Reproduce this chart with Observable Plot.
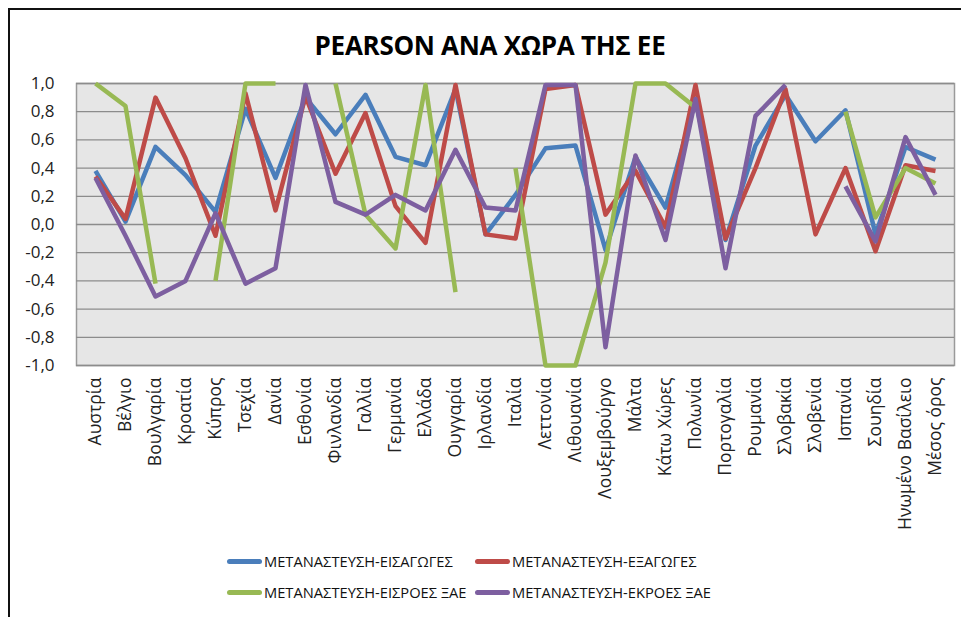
<!DOCTYPE html>
<html>
<head>
<meta charset="utf-8">
<script src="https://cdn.jsdelivr.net/npm/d3@7"></script>
<script src="https://cdn.jsdelivr.net/npm/@observablehq/plot@0.6"></script>
<style>
  html, body { margin: 0; padding: 0; background: #fff; }
  body { width: 961px; height: 617px; position: relative; overflow: hidden; font-family: "Open Sans", sans-serif; }
  #frame { position: absolute; left: 8px; top: 8px; width: 980px; height: 640px; border-top: 2px solid #111; border-left: 2px solid #111; }
  #title { position: absolute; left: 0; width: 980px; top: 27px; text-align: center; font-weight: bold; font-size: 26px; color: #000; letter-spacing: -0.3px; }
  #chart { position: absolute; left: 0; top: 0; }
  .leg { position: absolute; display: flex; align-items: center; font-size: 14.7px; color: #111; white-space: nowrap; }
  .leg .sw { width: 35px; height: 5px; border-radius: 2.5px; margin-right: 2px; }
</style>
</head>
<body>
<div id="frame"></div>
<div id="chart"></div>
<div id="title">PEARSON ΑΝΑ ΧΩΡΑ ΤΗΣ ΕΕ</div>
<div id="legend"></div>
<script>
const countries = ["Αυστρία","Βέλγιο","Βουλγαρία","Κροατία","Κύπρος","Τσεχία","Δανία","Εσθονία","Φινλανδία","Γαλλία","Γερμανία","Ελλάδα","Ουγγαρία","Ιρλανδία","Ιταλία","Λεττονία","Λιθουανία","Λουξεμβούργο","Μάλτα","Κάτω Χώρες","Πολωνία","Πορτογαλία","Ρουμανία","Σλοβακία","Σλοβενία","Ισπανία","Σουηδία","Ηνωμένο Βασίλειο","Μέσος όρος"];

const seriesNames = ["ΜΕΤΑΝΑΣΤΕΥΣΗ-ΕΙΣΑΓΩΓΕΣ","ΜΕΤΑΝΑΣΤΕΥΣΗ-ΕΞΑΓΩΓΕΣ","ΜΕΤΑΝΑΣΤΕΥΣΗ-ΕΙΣΡΟΕΣ ΞΑΕ","ΜΕΤΑΝΑΣΤΕΥΣΗ-ΕΚΡΟΕΣ ΞΑΕ"];

const imports = [0.38, 0.02, 0.55, 0.35, 0.09, 0.82, 0.33, 0.90, 0.64, 0.92, 0.48, 0.42, 0.96, -0.07, 0.21, 0.54, 0.56, -0.18, 0.48, 0.12, 0.88, -0.11, 0.56, 0.92, 0.59, 0.81, -0.07, 0.55, 0.46];
const exports = [0.34, 0.04, 0.90, 0.47, -0.08, 0.93, 0.10, 0.91, 0.36, 0.79, 0.13, -0.13, 0.99, -0.07, -0.10, 0.96, 0.99, 0.07, 0.38, -0.02, 0.99, -0.10, 0.40, 0.96, -0.07, 0.40, -0.19, 0.42, 0.38];
const fdiIn = [1.0, 0.84, -0.42, null, -0.40, 1.0, 1.0, null, 1.0, 0.07, -0.17, 0.99, -0.48, null, 0.40, -1.0, -1.0, -0.27, 1.0, 1.0, 0.83, null, null, null, null, 0.80, 0.05, 0.40, 0.29];
const fdiOut = [0.33, -0.08, -0.51, -0.40, 0.08, -0.42, -0.31, 0.99, 0.16, 0.07, 0.21, 0.10, 0.53, 0.12, 0.10, 0.99, 0.99, -0.87, 0.49, -0.11, 0.89, -0.31, 0.77, 0.99, null, 0.27, -0.12, 0.62, 0.21];

const colors = ["#4A7EBB", "#BE4B48", "#98B954", "#7D5FA0"];
const yTicks = [-1, -0.8, -0.6, -0.4, -0.2, 0, 0.2, 0.4, 0.6, 0.8, 1];

const allSeries = [imports, exports, fdiIn, fdiOut];
const data = [];
allSeries.forEach((vals, si) => {
  vals.forEach((v, i) => data.push({country: countries[i], series: seriesNames[si], value: v}));
});

const fmt = d3.formatLocale({decimal: ",", thousands: ".", grouping: [3], currency: ["", "€"], minus: "-"}).format(".1f");

const plot = Plot.plot({
  width: 961,
  height: 540,
  marginLeft: 76,
  marginRight: 7,
  marginTop: 83,
  marginBottom: 175,
  style: {fontFamily: "Open Sans, sans-serif", fontSize: "17px", color: "#222", background: "transparent"},
  x: {type: "point", domain: countries, padding: 0.5, label: null},
  y: {domain: [-1, 1], label: null},
  color: {domain: seriesNames, range: colors},
  marks: [
    Plot.frame({fill: "#E6E6E6", stroke: "#9a9a9a", strokeWidth: 1.5}),
    Plot.ruleY(yTicks, {stroke: "#8c8c8c", strokeWidth: 1.3}),
    Plot.lineY(data, {x: "country", y: "value", z: "series", stroke: "series", strokeWidth: 4.5, strokeLinejoin: "round", strokeLinecap: "butt"}),
    Plot.axisY(yTicks, {tickSize: 0, tickPadding: 22, tickFormat: fmt, fontSize: 17}),
    Plot.axisX({tickSize: 0, tickRotate: -90, tickPadding: 12, fontSize: 17.5})
  ]
});
document.getElementById("chart").appendChild(plot);

const legend = document.getElementById("legend");
const legPos = [[227, 551], [475, 551], [227, 582], [475, 582]];
seriesNames.forEach((name, i) => {
  const d = document.createElement("div");
  d.className = "leg";
  d.style.left = legPos[i][0] + "px";
  d.style.top = legPos[i][1] + "px";
  const sw = document.createElement("div");
  sw.className = "sw";
  sw.style.background = colors[i];
  const t = document.createElement("span");
  t.textContent = name;
  d.appendChild(sw);
  d.appendChild(t);
  legend.appendChild(d);
});
</script>
</body>
</html>
